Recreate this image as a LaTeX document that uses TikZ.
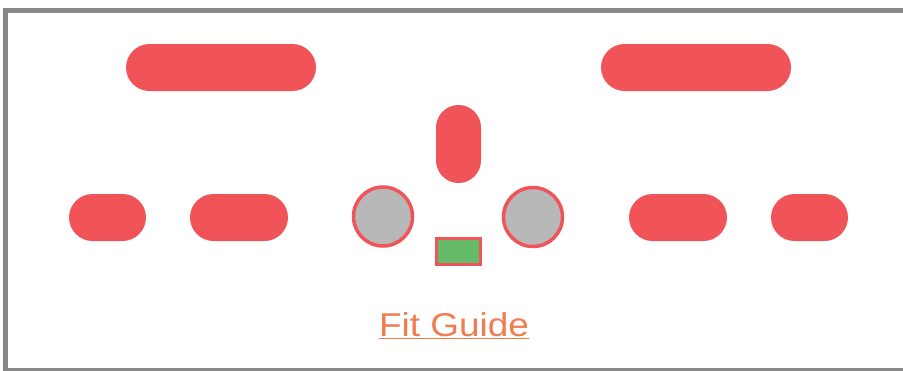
\documentclass[tikz,border=0pt]{standalone}
\usepackage{fontspec}
\setmainfont{Liberation Sans}
\definecolor{pillred}{RGB}{240,84,88}
\definecolor{frameg}{RGB}{136,136,136}
\definecolor{circg}{RGB}{184,184,184}
\definecolor{boxg}{RGB}{102,187,106}
\definecolor{linkor}{RGB}{240,125,80}
\tikzset{
  pill/.style={fill=pillred, draw=none, rounded corners=23.5pt, minimum height=47pt, inner sep=0pt},
  vpill/.style={fill=pillred, draw=none, rounded corners=22.5pt, minimum width=45pt, minimum height=78pt, inner sep=0pt},
  knob/.style={circle, fill=circg, draw=pillred, line width=3.5pt, minimum size=59pt, inner sep=0pt},
  gbox/.style={fill=boxg, draw=pillred, line width=3pt, minimum width=44pt, minimum height=26pt, inner sep=0pt},
  framestyle/.style={draw=frameg, line width=5pt}
}
\begin{document}
\begin{tikzpicture}[x=1pt,y=-1pt]
\useasboundingbox (0,0) rectangle (903,370);
\fill[white] (0,0) rectangle (903,370);
\draw[framestyle] (5.5,369.5) -- (5.5,10.5) -- (910,10.5);
\draw[draw=frameg, line width=3pt] (3,369.5) -- (910,369.5);
\node[pill, minimum width=190pt] (tl) at (221,67.5) {};
\node[pill, minimum width=190pt] (tr) at (696,67.5) {};
\node[vpill] (vp) at (458.5,144) {};
\node[pill, minimum width=77pt] (m1) at (107.5,217.5) {};
\node[pill, minimum width=98pt] (m2) at (239,217.5) {};
\node[pill, minimum width=98pt] (m3) at (678,217.5) {};
\node[pill, minimum width=77pt] (m4) at (809.5,217.5) {};
\node[knob] (c1) at (383,216.5) {};
\node[knob] (c2) at (533,217) {};
\node[gbox] (gb) at (458.5,251.5) {};
\node[text=linkor, font=\fontsize{33}{36}\selectfont, anchor=base, inner sep=0pt, xscale=1.12, transform shape] (fg) at (454,336) {\underline{Fit Guide}};
\end{tikzpicture}
\end{document}
